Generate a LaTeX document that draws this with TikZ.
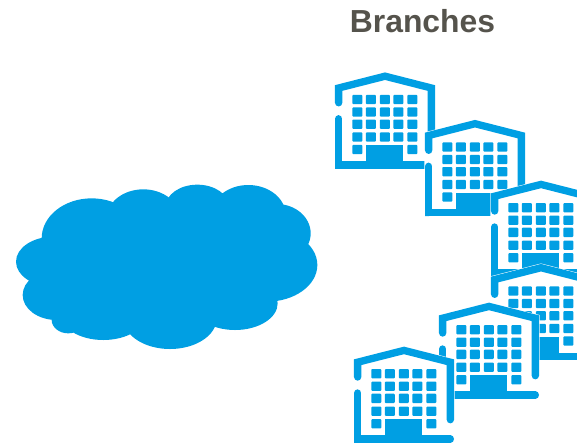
\documentclass[tikz,border=0pt]{standalone}
\usepackage{fontspec}
\setmainfont{Liberation Sans}
\definecolor{skyblue}{HTML}{009FE3}
\definecolor{titlegrey}{HTML}{55534C}
\tikzset{
  wallline/.style={draw=skyblue,line width=5.5pt,line cap=round,miter limit=10},
  winbox/.style={fill=skyblue,rounded corners=0.7pt},
  house/.pic={
    \fill[white,draw=white,line width=0.8pt] (0,12.7)--(50,0)--(100,12.7)--(100,96)--(0,96)--cycle;
    \draw[wallline] (3.65,30.3)--(3.65,15.5)--(50,3.7)--(96.35,15.5)--(96.35,73);
    \draw[wallline] (3.65,46.3)--(3.65,92.35)--(96.35,92.35);
    \fill[skyblue] (0,92)--(0,96)--(4,96)--cycle;
    \foreach \cx in {17.3,30.8,44.8,58.3,72.3}{
      \foreach \cy in {22.3,34.8,47,59.8}{
        \fill[winbox] (\cx,\cy) rectangle ++(10,9.4);
      }
    }
    \fill[winbox] (17.3,72.3) rectangle ++(10,9.4);
    \fill[winbox] (72.3,72.3) rectangle ++(10,9.4);
    \fill[skyblue] (31,72.5) rectangle (67.7,90);
  }
}
\begin{document}
\begin{tikzpicture}[x=0.75pt,y=-0.75pt]
  \useasboundingbox (0,0) rectangle (577,443);
  \clip (0,0) rectangle (577,443);
  \node[anchor=base,font=\bfseries\fontsize{23.9pt}{28pt}\selectfont,text=titlegrey,inner sep=0pt] (title) at (422.5,32) {Branches};
  % cloud
  \begin{scope}[shift={(0,170)},x=0.25pt,y=-0.25pt]
    \fill[skyblue]
      (275,205) ellipse [x radius=150,y radius=120]
      (430,145) ellipse [x radius=110,y radius=87]
      (592,110) ellipse [x radius=95,y radius=66]
      (745,135) ellipse [x radius=112,y radius=90]
      (830,190) ellipse [x radius=102,y radius=88]
      (800,285) ellipse [x radius=152,y radius=110]
      (160,275) ellipse [x radius=112,y radius=75]
      (170,375) ellipse [x radius=102,y radius=75]
      (205,450) ellipse [x radius=50,y radius=40]
      (310,430) ellipse [x radius=130,y radius=80]
      (510,445) ellipse [x radius=140,y radius=92]
      (705,400) ellipse [x radius=128,y radius=80];
    \fill[skyblue] (500,280) ellipse [x radius=320,y radius=170];
  \end{scope}
  % buildings, back to front
  \pic at (335,72.5) {house};
  \pic at (425,120) {house};
  \pic at (491,180.7) {house};
  \pic at (491,264) {house};
  \pic at (439,302.7) {house};
  \pic at (354,346.7) {house};
\end{tikzpicture}
\end{document}
